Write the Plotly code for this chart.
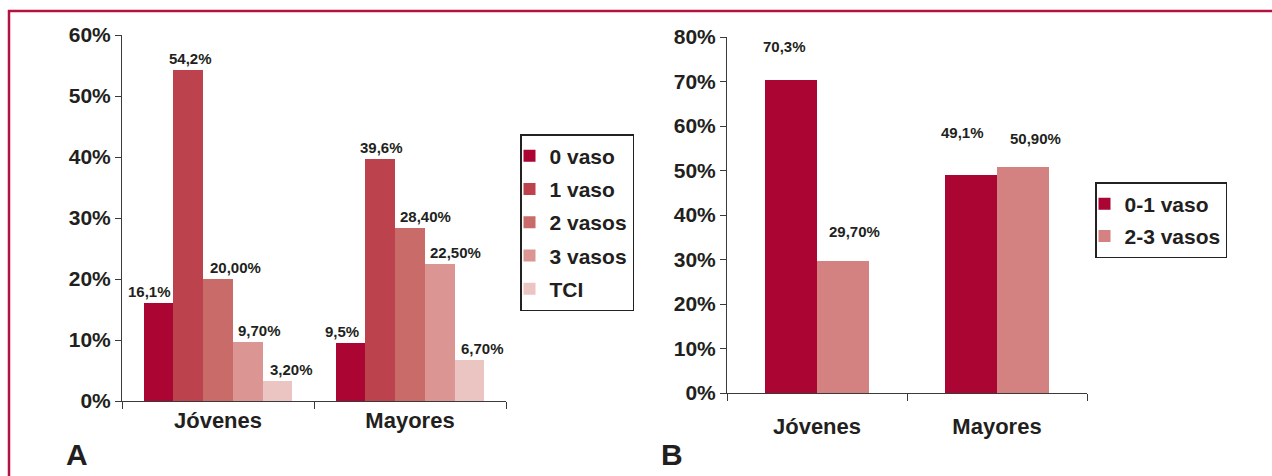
import plotly.graph_objects as go

# ---------------- data ----------------
categories = ["Jóvenes", "Mayores"]

# Panel A
series_a = ["0 vaso", "1 vaso", "2 vasos", "3 vasos", "TCI"]
a_0vaso = [16.1, 9.5]
a_1vaso = [54.2, 39.6]
a_2vasos = [20.0, 28.4]
a_3vasos = [9.7, 22.5]
a_tci = [3.2, 6.7]
labels_a_0vaso = ["16,1%", "9,5%"]
labels_a_1vaso = ["54,2%", "39,6%"]
labels_a_2vasos = ["20,00%", "28,40%"]
labels_a_3vasos = ["9,70%", "22,50%"]
labels_a_tci = ["3,20%", "6,70%"]
ticks_a = [0, 10, 20, 30, 40, 50, 60]

# Panel B
series_b = ["0-1 vaso", "2-3 vasos"]
b_01vaso = [70.3, 49.1]
b_23vasos = [29.7, 50.9]
labels_b_01vaso = ["70,3%", "49,1%"]
labels_b_23vasos = ["29,70%", "50,90%"]
ticks_b = [0, 10, 20, 30, 40, 50, 60, 70, 80]

# ---------------- styles ----------------
FONT = "Liberation Sans, Arial, sans-serif"
DARK = "#231f20"
AXIS = "#3a3a3a"
FRAME = "#b5123f"
colors_a = ["#ab0534", "#bc434e", "#c96b69", "#db9593", "#ebc5c1"]
colors_b = ["#ab0534", "#d48181"]
# label nudges (px) to mimic original placement: per series, per category
nudge_a_x = [[-9, -8], [2, 1], [17, 15], [12, 16], [14, 13]]
nudge_b_x = [[-6, -8], [11, 12]]
nudge_b_y = [[23, 32], [19, 17]]

BAR_W_A = 0.155
BAR_W_B = 0.29

fig = go.Figure()
annotations = []


def add_group(vals_list, labels_list, names, colors, bar_w, xaxis, yaxis, legend,
              nudge_x, nudge_y):
    n = len(vals_list)
    for j, (vals, labs, name, col) in enumerate(zip(vals_list, labels_list, names, colors)):
        xs = [i + (j - (n - 1) / 2) * bar_w for i in range(len(categories))]
        fig.add_trace(go.Bar(
            x=xs, y=vals, width=bar_w, name=name,
            marker=dict(color=col, line=dict(width=0)),
            xaxis=xaxis, yaxis=yaxis, legend=legend,
            legendgroup=name, hoverinfo="skip",
        ))
        for k, (xv, yv, t) in enumerate(zip(xs, vals, labs)):
            annotations.append(dict(
                x=xv, y=yv, text=t, showarrow=False,
                xref=xaxis, yref=yaxis,
                xanchor="center", yanchor="bottom",
                xshift=nudge_x[j][k], yshift=nudge_y[j][k],
                font=dict(family=FONT, size=15, color=DARK, weight="bold"),
            ))


add_group([a_0vaso, a_1vaso, a_2vasos, a_3vasos, a_tci],
          [labels_a_0vaso, labels_a_1vaso, labels_a_2vasos, labels_a_3vasos, labels_a_tci],
          series_a, colors_a, BAR_W_A, "x", "y", "legend",
          nudge_a_x, [[1, 1]] * 5)
add_group([b_01vaso, b_23vasos],
          [labels_b_01vaso, labels_b_23vasos],
          series_b, colors_b, BAR_W_B, "x2", "y2", "legend2",
          nudge_b_x, nudge_b_y)

W, H = 1272, 476


def xax(domain, standoff):
    return dict(
        domain=domain, range=[-0.5, 1.5], showgrid=False, zeroline=False,
        showline=True, linecolor=AXIS, linewidth=1,
        tickmode="array", tickvals=list(range(len(categories))), ticktext=categories,
        ticks="", ticklabelstandoff=standoff,
        tickfont=dict(family=FONT, size=22, color=DARK, weight="bold"),
        minor=dict(tickmode="array", tickvals=[-0.5, 0.5, 1.5], ticks="outside",
                   ticklen=7, tickcolor=AXIS, tickwidth=1),
        fixedrange=True, automargin=False,
    )


def yax(domain, rng, tv):
    return dict(
        domain=domain, range=rng, showgrid=False, zeroline=False,
        showline=True, linecolor=AXIS, linewidth=1,
        tickmode="array", tickvals=tv, ticktext=[f"{v}%" for v in tv],
        ticks="outside", ticklen=6, tickcolor=AXIS, tickwidth=1,
        tickfont=dict(family=FONT, size=21, color=DARK, weight="bold"),
        fixedrange=True, automargin=False,
    )


fig.update_layout(
    width=W, height=H,
    margin=dict(l=0, r=0, t=0, b=0, pad=0, autoexpand=False),
    paper_bgcolor="white", plot_bgcolor="white",
    bargap=0, barmode="overlay",
    xaxis=xax([122 / W, 506 / W], 0),
    yaxis=dict(**yax([(H - 401) / H, (H - 35) / H], [0, 60], ticks_a), anchor="x"),
    xaxis2=dict(**xax([727 / W, 1087 / W], 14), anchor="y2"),
    yaxis2=dict(**yax([(H - 393) / H, (H - 37) / H], [0, 80], ticks_b), anchor="x2"),
    legend=dict(
        x=520 / W, y=(H - 134) / H, xanchor="left", yanchor="top",
        bordercolor="#222", borderwidth=1.5, bgcolor="white",
        font=dict(family=FONT, size=21, color=DARK, weight="bold"),
        traceorder="grouped", tracegroupgap=3, itemclick=False, itemdoubleclick=False,
        indentation=-12,
    ),
    legend2=dict(
        x=1095 / W, y=(H - 182) / H, xanchor="left", yanchor="top",
        bordercolor="#222", borderwidth=1.5, bgcolor="white",
        font=dict(family=FONT, size=21, color=DARK, weight="bold"),
        traceorder="grouped", tracegroupgap=2, itemclick=False, itemdoubleclick=False,
        indentation=-12,
    ),
    annotations=annotations + [
        dict(text="A", x=77 / W, y=(H - 454) / H, xref="paper", yref="paper",
             xanchor="center", yanchor="middle", showarrow=False,
             font=dict(family=FONT, size=30, color=DARK, weight="bold")),
        dict(text="B", x=672 / W, y=(H - 454) / H, xref="paper", yref="paper",
             xanchor="center", yanchor="middle", showarrow=False,
             font=dict(family=FONT, size=30, color=DARK, weight="bold")),
    ],
    shapes=[
        dict(type="line", xref="paper", yref="paper", x0=8 / W, x1=1, y0=(H - 11) / H,
             y1=(H - 11) / H, line=dict(color=FRAME, width=2.5)),
        dict(type="line", xref="paper", yref="paper", x0=9 / W, x1=9 / W, y0=0,
             y1=(H - 10) / H, line=dict(color=FRAME, width=2.5)),
    ],
    showlegend=True,
)

fig.write_html(
    "out.html",
    config={"displayModeBar": False},
    post_script="document.body.style.margin='0';document.body.style.overflow='hidden';",
)
